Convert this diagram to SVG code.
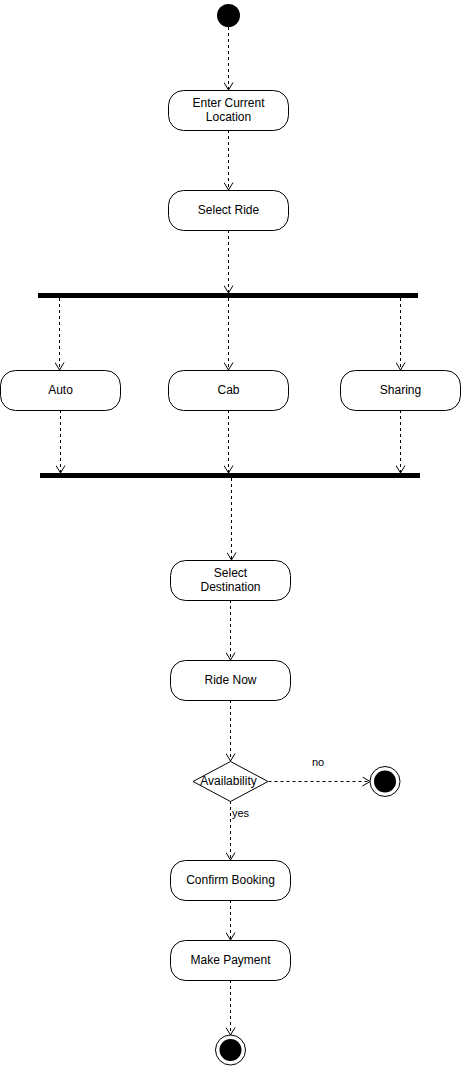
<svg xmlns="http://www.w3.org/2000/svg" width="462" height="1066" viewBox="0 0 462 1066">
  <style>
    .act { fill: #ffffff; stroke: #000000; stroke-width: 1; stroke-linejoin: round; }
    .bar { fill: #000000; }
    .lbl { font-family: "Liberation Sans", Arial, sans-serif; font-size: 12px; fill: #000000; text-anchor: middle; }
    .edge { fill: none; stroke: #000000; stroke-width: 1; stroke-dasharray: 3 3; }
    .elbl { font-family: "Liberation Sans", Arial, sans-serif; font-size: 11px; fill: #000000; }
  </style>
  <defs>
    <marker id="open" markerWidth="10" markerHeight="10" refX="8" refY="5" orient="auto" markerUnits="userSpaceOnUse">
      <path d="M0.5,0.5 L8,5 L0.5,9.5" fill="none" stroke="#000000" stroke-width="1"/>
    </marker>
  </defs>

  <!-- connectors -->
  <g id="connectors">
    <path class="edge" d="M228.5,27 V90" marker-end="url(#open)"/>
    <path class="edge" d="M228.5,130 V190" marker-end="url(#open)"/>
    <path class="edge" d="M228.5,230 V293" marker-end="url(#open)"/>
    <path class="edge" d="M59.5,298 V370" marker-end="url(#open)"/>
    <path class="edge" d="M228.5,298 V370" marker-end="url(#open)"/>
    <path class="edge" d="M400.5,298 V370" marker-end="url(#open)"/>
    <path class="edge" d="M60.5,410 V473" marker-end="url(#open)"/>
    <path class="edge" d="M228.5,410 V473" marker-end="url(#open)"/>
    <path class="edge" d="M400.5,410 V473" marker-end="url(#open)"/>
    <path class="edge" d="M231.5,478 V560" marker-end="url(#open)"/>
    <path class="edge" d="M230.5,600 V660" marker-end="url(#open)"/>
    <path class="edge" d="M230.5,700 V761" marker-end="url(#open)"/>
    <path class="edge" d="M268.5,781.5 H370" marker-end="url(#open)"/>
    <text class="elbl" x="312" y="766">no</text>
    <path class="edge" d="M230.5,801 V860" marker-end="url(#open)"/>
    <text class="elbl" x="232" y="817">yes</text>
    <path class="edge" d="M230.5,900 V940" marker-end="url(#open)"/>
    <path class="edge" d="M230.5,980 V1035" marker-end="url(#open)"/>
  </g>

  <g id="start">
    <circle cx="228.5" cy="15.5" r="11.5" fill="#000000"/>
  </g>

  <g id="enter-location">
    <rect class="act" x="168.5" y="90.5" width="120" height="40" rx="15"/>
    <text class="lbl" x="228.5" y="106.5">Enter Current</text>
    <text class="lbl" x="228.5" y="120.5">Location</text>
  </g>

  <g id="select-ride">
    <rect class="act" x="168.5" y="190.5" width="120" height="40" rx="15"/>
    <text class="lbl" x="228.5" y="214">Select Ride</text>
  </g>

  <g id="fork">
    <rect class="bar" x="38" y="293" width="380" height="5"/>
  </g>

  <g id="auto">
    <rect class="act" x="0.5" y="370.5" width="120" height="40" rx="15"/>
    <text class="lbl" x="60.5" y="394">Auto</text>
  </g>

  <g id="cab">
    <rect class="act" x="168.5" y="370.5" width="120" height="40" rx="15"/>
    <text class="lbl" x="228.5" y="394">Cab</text>
  </g>

  <g id="sharing">
    <rect class="act" x="340.5" y="370.5" width="120" height="40" rx="15"/>
    <text class="lbl" x="400.5" y="394">Sharing</text>
  </g>

  <g id="join">
    <rect class="bar" x="40" y="473" width="380" height="5"/>
  </g>

  <g id="select-destination">
    <rect class="act" x="170.5" y="560.5" width="120" height="40" rx="15"/>
    <text class="lbl" x="230.5" y="576.5">Select</text>
    <text class="lbl" x="230.5" y="590.5">Destination</text>
  </g>

  <g id="ride-now">
    <rect class="act" x="170.5" y="660.5" width="120" height="40" rx="15"/>
    <text class="lbl" x="230.5" y="684">Ride Now</text>
  </g>

  <g id="availability">
    <path class="act" d="M193,781.5 L230.5,761.5 L268,781.5 L230.5,801.5 Z"/>
    <text class="lbl" x="228.5" y="785">Availability</text>
  </g>

  <g id="end-unavailable">
    <circle cx="385" cy="781.5" r="15" fill="#ffffff" stroke="#000000" stroke-width="1"/>
    <circle cx="385" cy="781.5" r="11" fill="#000000"/>
  </g>

  <g id="confirm-booking">
    <rect class="act" x="170.5" y="860.5" width="120" height="40" rx="15"/>
    <text class="lbl" x="230.5" y="884">Confirm Booking</text>
  </g>

  <g id="make-payment">
    <rect class="act" x="170.5" y="940.5" width="120" height="40" rx="15"/>
    <text class="lbl" x="230.5" y="964">Make Payment</text>
  </g>

  <g id="end">
    <circle cx="230.5" cy="1050" r="15" fill="#ffffff" stroke="#000000" stroke-width="1"/>
    <circle cx="230.5" cy="1050" r="11" fill="#000000"/>
  </g>
</svg>
